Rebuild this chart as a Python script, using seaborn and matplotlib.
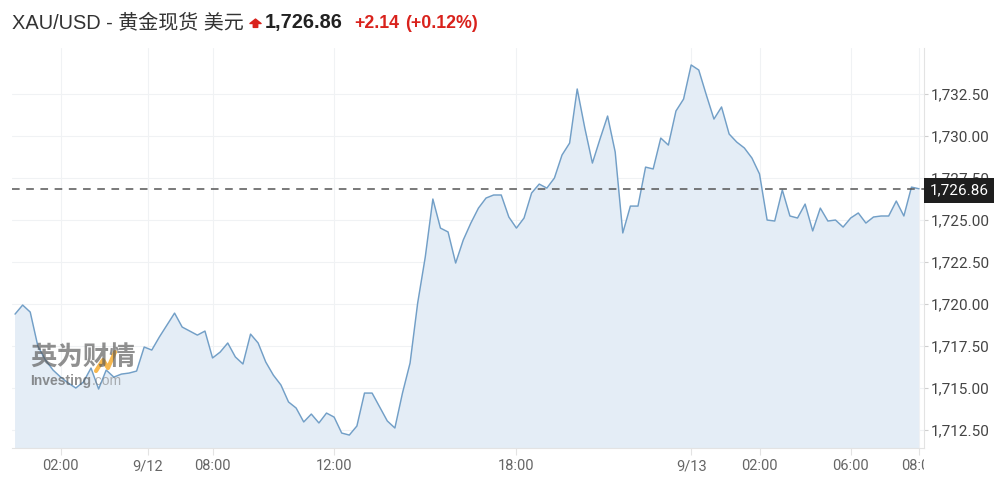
import numpy as np
import pandas as pd
import matplotlib.pyplot as plt
import matplotlib.transforms as mtransforms
from matplotlib.lines import Line2D
from matplotlib.path import Path
from matplotlib.ticker import FuncFormatter
import seaborn as sns

# spot gold (about every 15 minutes)
prices = [
    1719.40, 1719.94, 1719.52, 1717.50, 1716.67, 1716.07, 1715.65, 1715.30, 1715.00, 1715.36,
    1716.19, 1714.94, 1716.07, 1715.65, 1715.83, 1715.89, 1716.01, 1717.44, 1717.26, 1718.04,
    1718.75, 1719.46, 1718.63, 1718.39, 1718.15, 1718.39, 1716.79, 1717.14, 1717.68, 1716.85,
    1716.43, 1718.21, 1717.68, 1716.55, 1715.77, 1715.18, 1714.17, 1713.81, 1712.98, 1713.45,
    1712.92, 1713.51, 1713.27, 1712.32, 1712.20, 1712.74, 1714.70, 1714.70, 1713.87, 1713.04,
    1712.62, 1714.70, 1716.49, 1720.06, 1722.80, 1726.25, 1724.52, 1724.29, 1722.44, 1723.81,
    1724.82, 1725.71, 1726.31, 1726.49, 1726.49, 1725.18, 1724.52, 1725.12, 1726.61, 1727.14,
    1726.90, 1727.50, 1728.87, 1729.58, 1732.80, 1730.48, 1728.39, 1729.82, 1731.19, 1729.05,
    1724.23, 1725.83, 1725.83, 1728.15, 1728.04, 1729.88, 1729.46, 1731.49, 1732.20, 1734.23,
    1733.93, 1732.44, 1731.01, 1731.73, 1730.12, 1729.64, 1729.29, 1728.69, 1727.74, 1725.00,
    1724.94, 1726.79, 1725.24, 1725.12, 1725.95, 1724.35, 1725.71, 1724.94, 1725.00, 1724.58,
    1725.12, 1725.42, 1724.82, 1725.18, 1725.24, 1725.24, 1726.13, 1725.24, 1726.96, 1726.86,
]
last_price = 1726.86
change_txt = "+2.14"
change_pct_txt = "(+0.12%)"
title_txt = "XAU/USD - 黄金现货 美元"

x_tick_pos = [6, 17.5, 26, 42, 66, 89, 98, 110, 119]
x_tick_labels = ["02:00", "9/12", "08:00", "12:00", "18:00", "9/13", "02:00", "06:00", "08:00"]
y_ticks = [1712.5, 1715.0, 1717.5, 1720.0, 1722.5, 1725.0, 1727.5, 1730.0, 1732.5]

sns.set_theme(style="white")
plt.rcParams['font.family'] = ['Roboto', 'Noto Sans CJK SC', 'DejaVu Sans']

df = pd.DataFrame({"idx": np.arange(len(prices)), "price": prices})

W, H = 1001, 480
fig = plt.figure(figsize=(W / 100, H / 100), dpi=100)
ax = fig.add_axes([12 / W, 32 / H, 912 / W, 400 / H])

line_color = "#729fc7"
fill_color = "#e4edf6"
red = "#d9221c"

# area + line
ax.fill_between(df["idx"], df["price"], 1700, color=fill_color, lw=0, zorder=1)
sns.lineplot(data=df, x="idx", y="price", ax=ax, color=line_color, linewidth=1.05, zorder=3)
ax.axhline(last_price, color="#555555", lw=1.1, dashes=(5, 4.3), zorder=4)

ax.set_xlim(-0.4, 119.65)
ax.set_ylim(1711.43, 1735.24)
ax.set_xlabel("")
ax.set_ylabel("")

# axes styling
ax.yaxis.tick_right()
ax.set_yticks(y_ticks)
ax.yaxis.set_major_formatter(FuncFormatter(lambda v, _: f"{v:,.2f}"))
ax.set_xticks(x_tick_pos, x_tick_labels)
ax.grid(True, color="#f0f2f4", lw=0.8, zorder=0)
for side in ["top", "left"]:
    ax.spines[side].set_visible(False)
for side in ["right", "bottom"]:
    ax.spines[side].set_color("#e3e3e3")
    ax.spines[side].set_linewidth(0.8)
ax.tick_params(axis="y", which="major", right=True, left=False, length=3, width=0.8,
               color="#cfcfcf", pad=2, labelsize=11, labelcolor="#444444")
ax.tick_params(axis="x", which="major", bottom=True, length=5, width=0.8,
               color="#e3e3e3", pad=3, labelsize=10.5, labelcolor="#666666")

# last x label is cut at the right edge of the plot
clip = mtransforms.TransformedBbox(mtransforms.Bbox([[0, 0], [924 / W, 1]]), fig.transFigure)
last_lbl = ax.xaxis.get_major_ticks()[-1].label1
last_lbl.set_clip_box(clip)
last_lbl.set_clip_on(True)

# current price tag on the right axis
ax.annotate(f"{last_price:,.2f}", xy=(1, last_price), xycoords=("axes fraction", "data"),
            xytext=(4, -1), textcoords="offset points", ha="left", va="center",
            color="white", fontsize=11, zorder=10, annotation_clip=False,
            bbox=dict(boxstyle="square,pad=0.35", fc="#1e1e1e", ec="none"))

# header
fig.text(12 / W, 1 - 28 / H, title_txt, fontsize=14.4, color="#333333",
         family=["Liberation Sans", "Noto Sans CJK SC"], va="baseline")
up_arrow = Path([(-1, 0), (0, 0.8), (1, 0), (0.4, 0), (0.4, -0.7), (-0.4, -0.7),
                 (-0.4, 0), (-1, 0)],
                [Path.MOVETO] + [Path.LINETO] * 6 + [Path.CLOSEPOLY])
fig.add_artist(Line2D([255 / W], [1 - 22.5 / H], marker=up_arrow, markersize=8,
                      color=red, ls="none", transform=fig.transFigure))
fig.text(265 / W, 1 - 28 / H, f"{last_price:,.2f}", fontsize=14.4, fontweight="bold",
         color="#222222", family=["Liberation Sans"], va="baseline")
fig.text(354 / W, 1 - 28 / H, change_txt, fontsize=12.8, fontweight="bold",
         color=red, family=["Liberation Sans"], va="baseline")
fig.text(405 / W, 1 - 28 / H, change_pct_txt, fontsize=12.8, fontweight="bold",
         color=red, family=["Liberation Sans"], va="baseline")

# watermark
fig.text(30 / W, 1 - 358 / H, "英为财情", fontsize=19, fontweight="bold", color="#555555",
         alpha=0.65, family=["Noto Sans CJK SC"], va="center", ha="left")
fig.add_artist(Line2D([96 / W, 103 / W, 108 / W, 115 / W],
                      [1 - 371 / H, 1 - 360 / H, 1 - 368 / H, 1 - 352 / H],
                      color="#f5a623", lw=3, alpha=0.8, solid_capstyle="round",
                      transform=fig.transFigure))
wm = fig.text(30 / W, 1 - 381 / H, "Investing", fontsize=10, fontweight="bold",
              color="#555555", alpha=0.65, family=["Liberation Sans"], va="center",
              ha="left")
ax.annotate(".com", xy=(1, 0.5), xycoords=wm, xytext=(0.5, 0), textcoords="offset points",
            fontsize=10, color="#777777", alpha=0.55, family=["Liberation Sans"],
            va="center", ha="left", annotation_clip=False)

fig.savefig("out.png", dpi=100, facecolor="white")
